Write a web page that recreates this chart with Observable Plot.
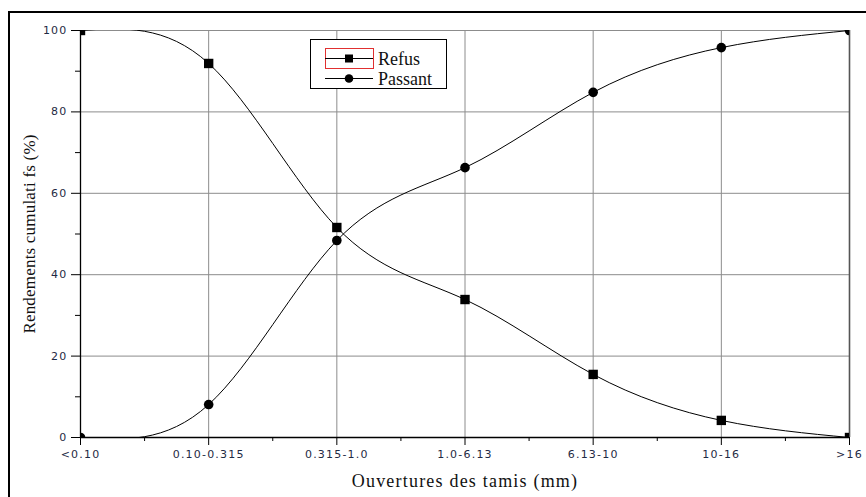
<!DOCTYPE html>
<html>
<head>
<meta charset="utf-8">
<script src="https://cdn.jsdelivr.net/npm/d3@7"></script>
<script src="https://cdn.jsdelivr.net/npm/@observablehq/plot@0.6"></script>
<style>
  body { margin: 0; background: #fff; }
  #wrap { position: relative; width: 866px; height: 497px; overflow: hidden; background: #fff; }
  #frame { position: absolute; left: 8px; top: 11px; width: 900px; height: 600px; border: 2px solid #000; box-sizing: border-box; pointer-events: none; }
  #chart { position: absolute; left: 0; top: 0; }
  #chart svg text { letter-spacing: 1.2px; }
  .lab { position: absolute; font-family: "Liberation Serif", "Times New Roman", serif; color: #111; white-space: nowrap; line-height: 1; }
  #xlab { left: 465px; top: 472px; transform: translateX(-50%); font-size: 18px; letter-spacing: 1.2px; }
  #ylab { left: 29px; top: 234px; transform: translate(-50%, -50%) rotate(-90deg); font-size: 17px; letter-spacing: 0.2px; }
  #legend { position: absolute; left: 310px; top: 39px; width: 137px; height: 50px; border: 1px solid #000; background: #fff; box-sizing: border-box; }
</style>
</head>
<body>
<div id="wrap">
  <div id="chart"></div>
  <div id="frame"></div>
  <div id="legend"></div>
  <div class="lab" id="xlab">Ouvertures des tamis (mm)</div>
  <div class="lab" id="ylab">Rendements cumulati fs (%)</div>
</div>
<script>
const categories = ["<0.10", "0.10-0.315", "0.315-1.0", "1.0-6.13", "6.13-10", "10-16", ">16"];
const refus = [100, 91.9, 51.6, 33.9, 15.5, 4.2, 0];
const passant = [0, 8.1, 48.4, 66.3, 84.8, 95.8, 100];
const yTicks = [0, 20, 40, 60, 80, 100];
const yMinorTicks = [10, 30, 50, 70, 90];
const seriesNames = ["Refus", "Passant"];

const idx = categories.map((c, i) => i);
const xMinor = idx.slice(0, -1).map(i => i + 0.5);
const refusData = categories.map((c, i) => ({i, v: refus[i]}));
const passantData = categories.map((c, i) => ({i, v: passant[i]}));

const chart = Plot.plot({
  width: 866,
  height: 497,
  marginLeft: 80,
  marginRight: 17,
  marginTop: 30,
  marginBottom: 60,
  x: {domain: [0, categories.length - 1]},
  y: {domain: [0, 100]},
  style: {background: "transparent", fontFamily: "DejaVu Sans, Verdana, sans-serif", fontSize: "11px", color: "#000"},
  marks: [
    Plot.gridX(idx.slice(1), {stroke: "#8c8c8c", strokeOpacity: 1}),
    Plot.gridY(yTicks.slice(1), {stroke: "#8c8c8c", strokeOpacity: 1}),
    Plot.ruleX([categories.length - 1], {stroke: "#555", strokeWidth: 1.6}),
    Plot.axisY({ticks: yTicks, tickSize: 9, tickPadding: 4, label: null, tickFormat: d => String(d), fill: "#1f2a44", stroke: "#000"}),
    Plot.axisY({ticks: yMinorTicks, tickSize: 5, label: null, tickFormat: () => "", stroke: "#000"}),
    Plot.axisX({ticks: idx, tickSize: 8, tickPadding: 5, label: null, tickFormat: i => categories[i], fill: "#1f2a44", stroke: "#000"}),
    Plot.axisX({ticks: xMinor, tickSize: 4, label: null, tickFormat: () => "", stroke: "#000"}),
    Plot.ruleX([0], {stroke: "#000", strokeWidth: 1.3}),
    Plot.ruleY([0], {stroke: "#000", strokeWidth: 1.3}),
    Plot.line(refusData, {x: "i", y: "v", curve: "natural", stroke: "#000", strokeWidth: 1, clip: true}),
    Plot.line(passantData, {x: "i", y: "v", curve: "natural", stroke: "#000", strokeWidth: 1, clip: true}),
    Plot.dot(refusData, {x: "i", y: "v", symbol: "square", r: 5.3, fill: "#000", stroke: null, clip: true}),
    Plot.dot(passantData, {x: "i", y: "v", symbol: "circle", r: 4.8, fill: "#000", stroke: null, clip: true})
  ]
});
document.getElementById("chart").appendChild(chart);

// legend
const lg = d3.select("#legend").append("svg").attr("width", 137).attr("height", 50)
  .style("position", "absolute").style("left", "-1px").style("top", "-1px");
lg.append("rect").attr("x", 15.5).attr("y", 9.5).attr("width", 48).attr("height", 20)
  .attr("fill", "none").attr("stroke", "#e03030").attr("stroke-width", 1);
[[19.5, "square"], [39.5, "circle"]].forEach(([yy, sym], k) => {
  lg.append("line").attr("x1", 15).attr("x2", 63).attr("y1", yy).attr("y2", yy).attr("stroke", "#000");
  if (sym === "square") lg.append("rect").attr("x", 35).attr("y", yy - 4).attr("width", 8).attr("height", 8).attr("fill", "#000");
  else lg.append("circle").attr("cx", 39).attr("cy", yy).attr("r", 4.3).attr("fill", "#000");
  lg.append("text").attr("x", 68).attr("y", yy + 6).text(seriesNames[k])
    .attr("font-family", "Liberation Serif, Times New Roman, serif").attr("font-size", 18).attr("fill", "#111");
});
</script>
</body>
</html>
